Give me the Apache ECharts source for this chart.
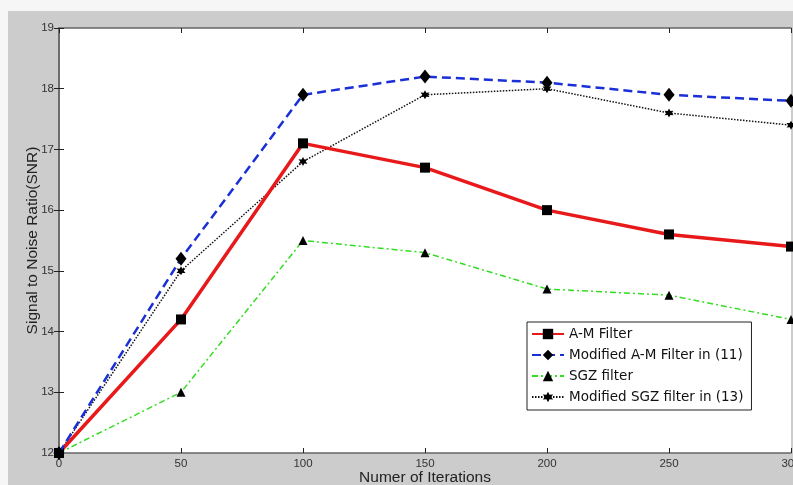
<!DOCTYPE html>
<html>
<head>
<meta charset="utf-8">
<script src="https://cdn.jsdelivr.net/npm/echarts@6/dist/echarts.min.js"></script>
<style>
  html, body { margin: 0; padding: 0; background: #f6f6f6; }
  #chart { width: 793px; height: 485px; }
</style>
</head>
<body>
<div id="chart"></div>
<script>
var iterations = [0, 50, 100, 150, 200, 250, 300];
var amFilter = [12, 14.2, 17.1, 16.7, 16.0, 15.6, 15.4];
var modAmFilter = [12, 15.2, 17.9, 18.2, 18.1, 17.9, 17.8];
var sgzFilter = [12, 13.0, 15.5, 15.3, 14.7, 14.6, 14.2];
var modSgzFilter = [12, 15.0, 16.8, 17.9, 18.0, 17.6, 17.4];
var seriesNames = ['A-M Filter', 'Modified A-M Filter in (11)', 'SGZ filter', 'Modified SGZ filter in (13)'];

function pairs(vals){
	var out = [];
	for(var i=0; i<vals.length; i++){
		out.push([iterations[i], vals[i]]);
	}
	return out;
}

var chart = echarts.init(document.getElementById('chart'));

var tickStyle = { inside: true, length: 5, lineStyle: { color: '#222', width: 1 } };
var lineAxis = { show: true, lineStyle: { color: '#666', width: 1.5 } };

var star = 'path://M0,-10 L2.6,-4.5 L8.7,-5 L5.2,0 L8.7,5 L2.6,4.5 L0,10 L-2.6,4.5 L-8.7,5 L-5.2,0 L-8.7,-5 L-2.6,-4.5 Z';

var option = {
	backgroundColor: '#f6f6f6',
	animation: false,
	graphic: [{
		type: 'rect',
		z: -10,
		shape: { x: 8, y: 11, width: 800, height: 480 },
		style: { fill: '#cccccc' }
	}],
	grid: {
		left: 59,
		top: 28,
		right: 2,
		bottom: 32,
		outerBoundsMode: 'none',
		containLabel: false,
		show: true,
		backgroundColor: '#ffffff',
		borderWidth: 0
	},
	legend: {
		left: 527,
		top: 322,
		orient: 'vertical',
		backgroundColor: '#ffffff',
		borderColor: '#222',
		borderWidth: 1,
		borderRadius: 0,
		padding: [5, 8, 6, 4],
		itemGap: 7,
		itemWidth: 32,
		itemHeight: 13,
		textStyle: { fontFamily: 'DejaVu Sans', fontSize: 13.5, color: '#111' },
		data: seriesNames
	},
	xAxis: [{
		type: 'value',
		min: 0,
		max: 300,
		interval: 50,
		name: 'Numer of Iterations',
		nameLocation: 'middle',
		nameGap: 17,
		nameMoveOverlap: false,
		nameTextStyle: { fontFamily: 'Liberation Sans', fontSize: 15.5, color: '#222' },
		axisLine: lineAxis,
		axisTick: tickStyle,
		axisLabel: { color: '#333', fontFamily: 'Liberation Sans', fontSize: 11.5, margin: 5 },
		splitLine: { show: false }
	}, {
		type: 'value',
		position: 'top',
		min: 0,
		max: 300,
		interval: 50,
		axisLine: lineAxis,
		axisTick: tickStyle,
		axisLabel: { show: false },
		splitLine: { show: false }
	}],
	yAxis: [{
		type: 'value',
		min: 12,
		max: 19,
		interval: 1,
		name: 'Signal to Noise Ratio(SNR)',
		nameLocation: 'middle',
		nameGap: 18,
		nameMoveOverlap: false,
		nameTextStyle: { fontFamily: 'Liberation Sans', fontSize: 15.5, color: '#222' },
		axisLine: lineAxis,
		axisTick: tickStyle,
		axisLabel: { color: '#333', fontFamily: 'Liberation Sans', fontSize: 11.5, margin: 5 },
		splitLine: { show: false }
	}, {
		type: 'value',
		position: 'right',
		min: 12,
		max: 19,
		interval: 1,
		axisLine: lineAxis,
		axisTick: tickStyle,
		axisLabel: { show: false },
		splitLine: { show: false }
	}],
	series: [{
		name: seriesNames[0],
		type: 'line',
		data: pairs(amFilter),
		symbol: 'rect',
		symbolSize: 10,
		itemStyle: { color: '#000' },
		lineStyle: { color: '#e8191a', width: 3.5, type: 'solid' },
		z: 3
	}, {
		name: seriesNames[1],
		type: 'line',
		data: pairs(modAmFilter),
		symbol: 'diamond',
		symbolSize: [11, 14],
		itemStyle: { color: '#000' },
		lineStyle: { color: '#1a2fd6', width: 2.5, type: [9, 5] },
		z: 4
	}, {
		name: seriesNames[2],
		type: 'line',
		data: pairs(sgzFilter),
		symbol: 'triangle',
		symbolSize: 9,
		itemStyle: { color: '#000' },
		lineStyle: { color: '#33dd22', width: 1.5, type: [6, 3, 2, 3] },
		z: 2
	}, {
		name: seriesNames[3],
		type: 'line',
		data: pairs(modSgzFilter),
		symbol: star,
		symbolSize: 9,
		itemStyle: { color: '#000' },
		lineStyle: { color: '#111', width: 1.5, type: [1.5, 1.5] },
		z: 2
	}]
};

chart.setOption(option);
</script>
</body>
</html>
